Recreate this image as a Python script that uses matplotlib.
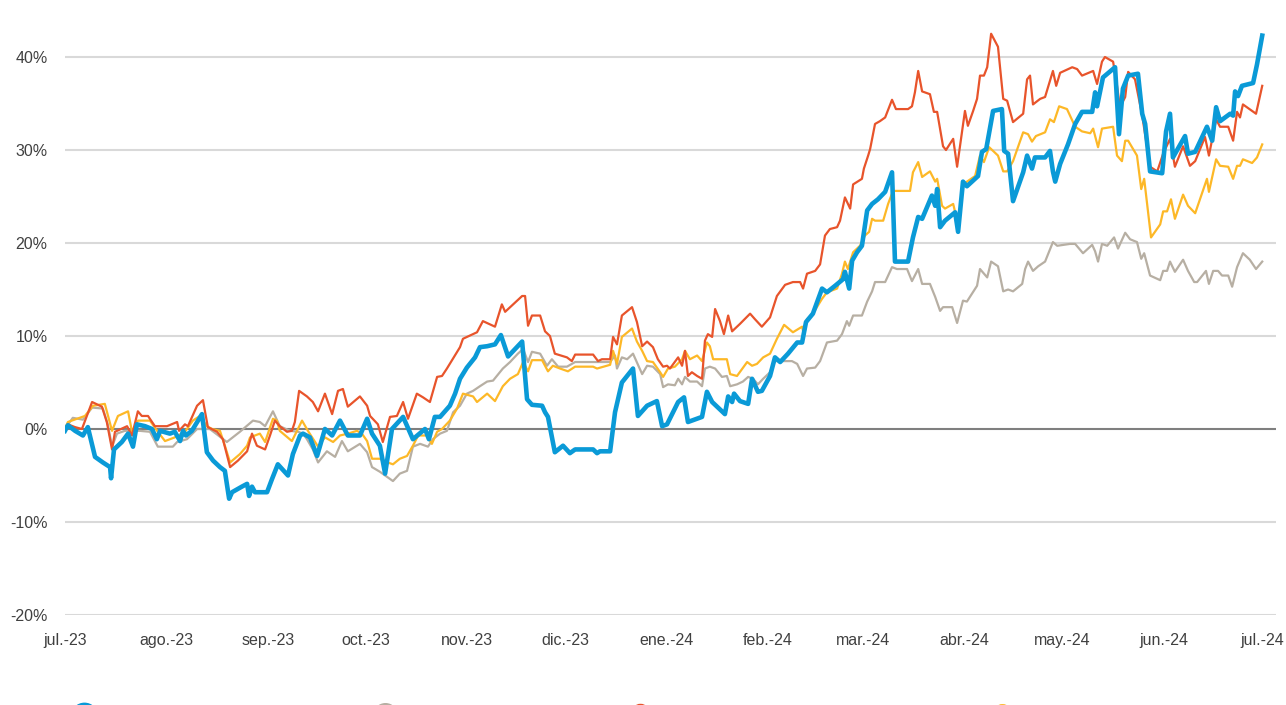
import matplotlib
matplotlib.use("Agg")
import matplotlib.pyplot as plt
from matplotlib.lines import Line2D
import pandas as pd

plt.rcParams["font.family"] = ["Liberation Sans", "DejaVu Sans"]

start = pd.Timestamp("2023-07-01")

# (days since 2023-07-01, return %)
blue = [(0, -0.2), (0.9, 0.4), (3.1, -0.2), (5.5, -0.7), (7.0, 0.2), (9.2, -3.0), (11.6, -3.6),
        (13.8, -4.1), (14.1, -5.3), (15.0, -2.2), (17.4, -1.4), (19.3, -0.5), (20.8, -1.9), (22.0, 0.5),
        (24.5, 0.3), (26.6, 0.0), (28.1, -1.1), (29.1, -0.2), (32.1, -0.5), (33.6, -0.3), (35.2, -1.3),
        (36.1, -0.2), (37.0, -0.7), (38.8, -0.2), (41.9, 1.6), (43.4, -2.5), (45.3, -3.4), (47.4, -4.1),
        (48.9, -4.5), (50.2, -7.5), (51.1, -6.8), (54.1, -6.2), (55.7, -5.9), (56.3, -7.2), (57.2, -6.2),
        (58.1, -6.8), (61.8, -6.8), (63.3, -5.4), (65.1, -3.8), (68.2, -5.0), (69.7, -2.7), (71.9, -0.7),
        (72.8, -0.5), (74.9, -0.9), (77.1, -2.9), (79.5, 0.0), (81.7, -0.7), (84.1, 0.9), (86.5, -0.7),
        (90.2, -0.7), (92.4, 1.1), (93.9, -0.5), (96.3, -1.8), (97.9, -4.8), (100.0, 0.0), (103.4, 1.3),
        (106.4, -1.1), (110.1, 0.0), (111.3, -1.1), (113.1, 1.3), (114.7, 1.3), (117.7, 2.5), (119.3, 3.8),
        (120.8, 5.4), (122.9, 6.6), (125.4, 7.7), (126.9, 8.8), (129.1, 8.9), (131.5, 9.1), (133.3, 10.1),
        (135.5, 7.8), (139.8, 9.4), (141.3, 3.2), (142.8, 2.6), (145.9, 2.5), (146.8, 1.8), (147.7, 1.3),
        (149.8, -2.5), (152.3, -1.8), (154.4, -2.6), (156.0, -2.2), (161.5, -2.2), (162.7, -2.6),
        (163.6, -2.4), (166.7, -2.4), (168.2, 1.8), (170.3, 5.0), (173.7, 6.5), (175.2, 1.4), (178.0, 2.5),
        (181.0, 3.0), (182.6, 0.3), (184.1, 0.5), (187.5, 2.9), (189.3, 3.4), (190.5, 0.75), (194.8, 1.3),
        (196.3, 4.0), (197.9, 2.9), (201.8, 1.6), (202.8, 3.5), (204.0, 2.9), (204.6, 3.8), (206.4, 3.0),
        (208.9, 2.7), (210.1, 5.4), (211.9, 4.0), (213.1, 4.1), (215.6, 5.7), (217.1, 7.7), (218.7, 7.2),
        (221.1, 8.1), (223.9, 9.3), (225.4, 9.3), (226.6, 11.5), (228.7, 12.4), (231.5, 15.1), (233.0, 14.7),
        (235.5, 15.4), (237.9, 16.1), (238.5, 16.9), (239.8, 15.1), (240.7, 18.1), (242.2, 19.0),
        (243.7, 19.7), (245.3, 23.5), (246.8, 24.2), (248.6, 24.7), (250.8, 25.5), (252.9, 27.6),
        (253.8, 18.0), (257.8, 18.0), (259.3, 20.6), (260.9, 22.8), (262.1, 22.6), (265.1, 25.1),
        (266.1, 24.0), (266.7, 25.8), (267.6, 21.7), (269.1, 22.4), (272.2, 23.3), (273.1, 21.2),
        (274.6, 26.6), (275.8, 26.1), (279.2, 27.2), (280.4, 29.8), (281.7, 30.1), (283.8, 34.2),
        (286.5, 34.4), (287.2, 29.9), (288.4, 29.6), (289.9, 24.5), (293.0, 27.6), (294.2, 29.4),
        (295.7, 28.0), (296.6, 29.2), (299.7, 29.2), (301.2, 29.9), (302.1, 27.7), (302.8, 26.6),
        (304.3, 28.5), (306.7, 30.6), (308.9, 32.8), (311.0, 34.1), (314.1, 34.1), (315.0, 36.2),
        (315.6, 34.7), (317.4, 37.8), (321.1, 38.9), (322.3, 31.7), (323.5, 36.6), (325.1, 38.0),
        (328.1, 38.2), (329.4, 33.9), (330.3, 32.8), (331.8, 27.7), (335.5, 27.5), (336.7, 32.0),
        (337.9, 33.9), (338.8, 29.2), (342.5, 31.5), (343.4, 29.6), (345.6, 29.8), (349.2, 32.5),
        (350.8, 31.0), (352.0, 34.6), (353.2, 33.1), (356.3, 33.9), (357.2, 33.7), (357.8, 36.3),
        (358.7, 35.8), (359.9, 36.9), (363.3, 37.2), (364.5, 39.2), (366.1, 42.3)]

orange = [(0, 0.0), (0.9, 0.5), (3.1, 0.2), (5.2, 0.0), (8.3, 2.9), (11.3, 2.4), (12.8, 0.75),
          (14.4, -2.2), (15.3, -0.3), (19.0, 0.3), (20.5, -0.7), (22.3, 1.9), (23.5, 1.4), (25.4, 1.4),
          (27.5, 0.3), (31.2, 0.3), (34.3, 0.75), (34.9, -0.2), (36.7, 0.5), (37.6, 0.3), (40.4, 2.5),
          (42.2, 3.1), (43.7, 0.2), (46.5, -0.3), (48.3, -1.1), (50.5, -4.1), (52.9, -3.4), (55.7, -2.4),
          (57.2, -0.5), (58.7, -1.8), (61.2, -2.2), (62.7, -0.7), (64.2, 0.9), (65.7, 0.3), (67.9, -0.3),
          (69.4, -0.2), (70.3, 0.75), (71.6, 4.1), (74.0, 3.5), (75.8, 2.9), (77.4, 1.9), (79.5, 3.8),
          (81.7, 1.6), (83.5, 4.1), (85.0, 4.3), (86.5, 2.4), (90.2, 3.5), (92.4, 2.5), (93.3, 1.4),
          (95.7, 0.5), (97.2, -1.4), (99.4, 1.3), (101.5, 1.4), (103.4, 2.9), (104.9, 1.1), (107.6, 3.8),
          (109.5, 3.4), (111.6, 2.9), (113.8, 5.6), (115.3, 5.7), (116.8, 6.5), (120.8, 8.8), (121.7, 9.7),
          (124.8, 10.2), (126.0, 10.4), (127.8, 11.6), (131.5, 11.0), (133.6, 13.4), (134.6, 12.6),
          (139.8, 14.3), (140.7, 14.3), (141.6, 11.1), (142.8, 12.2), (145.3, 12.2), (146.8, 10.5),
          (148.3, 10.0), (149.8, 8.1), (153.5, 7.7), (155.0, 7.3), (156.0, 8.0), (161.5, 8.0), (163.0, 7.3),
          (164.2, 7.5), (166.7, 7.5), (167.6, 9.9), (168.8, 9.1), (170.3, 12.2), (173.4, 13.1),
          (174.9, 11.5), (176.5, 8.9), (178.0, 9.4), (179.8, 8.8), (181.3, 7.5), (182.9, 6.7), (184.1, 6.8),
          (185.0, 6.5), (187.5, 7.7), (188.7, 6.8), (189.6, 8.4), (190.5, 5.7), (191.7, 6.1), (193.3, 5.7),
          (194.8, 5.4), (195.7, 9.5), (196.6, 10.2), (197.9, 9.9), (198.8, 12.9), (200.3, 11.6),
          (201.5, 10.2), (202.8, 12.2), (204.0, 10.5), (206.4, 11.3), (209.5, 12.4), (211.0, 11.8),
          (213.1, 11.0), (215.6, 12.0), (217.7, 14.3), (220.2, 15.5), (222.6, 15.8), (224.8, 15.8),
          (225.7, 15.1), (226.9, 16.7), (229.4, 17.0), (230.9, 17.7), (232.4, 20.8), (233.9, 21.5),
          (236.1, 21.7), (237.0, 22.4), (238.5, 24.9), (240.1, 23.7), (241.0, 26.3), (243.7, 26.9),
          (244.3, 28.0), (245.6, 29.4), (246.2, 30.1), (247.7, 32.8), (249.2, 33.1), (250.8, 33.5),
          (252.9, 35.4), (254.1, 34.4), (257.8, 34.4), (259.0, 34.7), (259.9, 36.2), (260.9, 38.5),
          (262.1, 36.3), (264.5, 36.0), (265.7, 34.1), (266.7, 34.1), (268.5, 30.4), (269.4, 30.0),
          (271.6, 31.2), (272.8, 28.2), (275.2, 34.2), (276.1, 32.6), (277.7, 34.2), (278.9, 35.5),
          (279.8, 38.0), (281.0, 38.0), (282.0, 38.9), (283.2, 42.5), (285.3, 41.1), (286.9, 35.5),
          (288.1, 35.3), (289.9, 33.0), (293.0, 33.9), (294.2, 37.6), (295.1, 38.0), (296.0, 34.9),
          (298.2, 35.5), (299.7, 35.7), (302.1, 38.5), (303.1, 36.9), (304.3, 38.3), (308.0, 38.9),
          (309.5, 38.7), (311.0, 38.0), (314.4, 38.5), (315.6, 37.1), (317.1, 39.5), (318.0, 40.0),
          (320.5, 39.5), (321.7, 36.9), (322.6, 34.6), (324.2, 35.7), (325.1, 38.4), (327.2, 37.6),
          (329.4, 33.7), (331.8, 28.2), (334.0, 27.7), (335.8, 29.6), (337.9, 31.2), (339.4, 28.2),
          (341.9, 30.4), (344.0, 28.3), (345.6, 28.8), (347.1, 30.1), (348.6, 31.4), (349.8, 29.4),
          (352.0, 33.3), (353.2, 32.5), (355.7, 32.5), (357.2, 31.0), (358.4, 34.1), (359.3, 33.5),
          (360.2, 34.9), (364.2, 33.9), (366.1, 36.9)]

yellow = [(0, 0.0), (0.9, 0.75), (3.7, 1.1), (6.1, 1.4), (8.6, 2.5), (12.2, 2.7), (14.4, -0.2),
          (16.2, 1.4), (19.3, 1.9), (20.5, -0.3), (22.3, 0.9), (26.0, 0.9), (28.4, -0.3), (30.6, -1.3),
          (33.6, -0.9), (36.7, -0.3), (39.1, 0.9), (41.3, 1.4), (43.4, 0.3), (45.0, 0.0), (47.4, -0.2),
          (48.9, -1.8), (50.5, -3.6), (53.5, -2.7), (55.7, -1.8), (56.6, -0.9), (58.1, -0.7), (59.6, -0.5),
          (61.2, -1.4), (63.6, 1.1), (64.8, 0.9), (65.7, -0.2), (69.4, -1.3), (72.5, 0.9), (74.3, -0.2),
          (77.4, -1.9), (79.5, -0.9), (82.0, -1.4), (84.1, -0.7), (86.5, -0.5), (89.3, -0.2), (90.8, -0.5),
          (92.4, -1.3), (93.9, -3.2), (96.3, -3.2), (97.9, -3.5), (100.3, -3.8), (102.4, -3.2),
          (104.6, -2.9), (106.4, -1.8), (108.0, -0.7), (110.7, -0.7), (112.2, -1.6), (113.8, -0.3),
          (115.3, 0.0), (117.7, 0.9), (119.9, 2.2), (121.7, 3.8), (124.8, 3.5), (126.0, 2.9), (129.1, 3.8),
          (131.5, 3.0), (133.9, 4.6), (136.1, 5.4), (138.5, 5.9), (140.1, 7.2), (141.6, 6.2), (142.8, 7.4),
          (145.9, 7.4), (147.7, 6.2), (149.2, 6.8), (151.4, 6.5), (153.8, 6.2), (156.0, 6.7), (161.5, 6.7),
          (162.7, 6.5), (166.7, 6.9), (167.6, 8.4), (168.8, 7.0), (170.3, 9.9), (173.4, 10.8), (174.9, 9.4),
          (176.5, 8.4), (178.0, 7.3), (179.8, 7.2), (182.0, 6.1), (182.9, 5.6), (184.4, 6.5), (186.5, 6.7),
          (188.7, 7.5), (189.6, 8.4), (191.1, 7.5), (193.3, 7.9), (194.8, 7.3), (196.3, 9.3), (197.2, 8.9),
          (198.2, 7.5), (202.4, 7.5), (203.4, 5.9), (205.5, 5.7), (208.6, 7.2), (210.1, 6.8), (211.6, 7.0),
          (213.5, 7.7), (215.6, 8.1), (217.7, 9.7), (219.9, 11.2), (222.6, 10.4), (225.4, 11.0),
          (226.0, 10.1), (226.9, 11.8), (228.7, 12.4), (231.5, 14.0), (233.0, 14.7), (236.1, 15.1),
          (237.6, 16.7), (238.5, 18.0), (239.4, 17.2), (241.0, 19.0), (243.1, 19.7), (244.6, 20.8),
          (245.9, 21.2), (246.8, 22.6), (247.7, 22.4), (250.2, 22.4), (251.7, 24.2), (253.2, 25.6),
          (258.4, 25.6), (259.3, 27.6), (260.9, 28.7), (262.1, 27.1), (264.5, 27.7), (266.1, 26.6),
          (266.7, 26.9), (268.2, 24.0), (269.1, 23.7), (271.6, 24.2), (273.1, 22.0), (274.6, 26.3),
          (278.3, 27.2), (279.8, 29.4), (281.0, 28.7), (282.6, 30.3), (285.3, 29.4), (286.9, 27.7),
          (288.1, 27.7), (289.9, 28.8), (293.0, 31.9), (294.5, 31.7), (295.7, 30.9), (296.9, 31.5),
          (299.7, 31.9), (301.2, 33.3), (302.4, 33.0), (304.0, 34.7), (306.4, 34.4), (308.9, 32.5),
          (311.0, 32.0), (313.5, 31.8), (314.4, 32.3), (315.9, 30.3), (317.1, 32.3), (320.5, 32.5),
          (321.7, 29.4), (323.2, 28.8), (324.2, 31.0), (325.1, 31.0), (327.8, 29.4), (329.1, 25.8),
          (330.0, 26.9), (332.1, 20.6), (334.9, 22.0), (335.8, 23.4), (337.0, 23.4), (338.2, 24.7),
          (339.4, 22.6), (341.9, 25.2), (343.4, 24.0), (345.6, 23.2), (349.2, 26.9), (349.8, 25.5),
          (352.0, 29.0), (353.2, 28.3), (355.7, 28.2), (357.2, 26.9), (358.4, 28.3), (359.3, 28.3),
          (360.2, 29.0), (363.0, 28.6), (364.5, 29.2), (366.1, 30.6)]

gray = [(0, 0.0), (2.4, 1.2), (5.5, 1.0), (8.3, 2.3), (11.6, 2.2), (13.1, 0.5), (14.4, -1.9),
        (15.9, -0.5), (18.3, -0.2), (22.9, -0.2), (26.0, -0.3), (28.4, -1.9), (33.0, -1.9), (34.3, -1.4),
        (37.3, -1.1), (40.4, 0.0), (44.3, 0.0), (49.5, -1.4), (53.5, -0.3), (57.5, 0.9), (59.6, 0.75),
        (61.2, 0.3), (63.6, 1.9), (65.7, 0.3), (68.8, -0.2), (71.3, -0.3), (72.8, -0.5), (74.0, -1.1),
        (75.8, -2.2), (77.4, -3.6), (80.1, -2.4), (82.6, -3.0), (84.7, -1.3), (86.5, -2.4), (90.2, -1.6),
        (92.4, -2.5), (93.9, -4.1), (96.3, -4.6), (97.9, -5.0), (100.3, -5.6), (102.4, -4.8),
        (104.6, -4.5), (106.4, -1.9), (108.6, -1.6), (111.0, -1.9), (112.5, -1.1), (114.7, -0.5),
        (116.8, -0.2), (118.7, 1.8), (120.8, 2.5), (122.9, 3.8), (124.8, 4.1), (126.9, 4.6), (129.1, 5.1),
        (130.9, 5.2), (133.9, 6.5), (136.1, 7.2), (138.5, 8.1), (140.1, 8.6), (141.6, 7.2), (142.8, 8.3),
        (145.3, 8.1), (147.4, 6.8), (148.9, 7.5), (150.8, 6.7), (153.5, 6.7), (156.0, 7.2), (166.7, 7.2),
        (168.2, 7.9), (168.8, 6.5), (170.3, 7.7), (171.9, 7.5), (173.7, 8.1), (176.5, 5.9), (178.0, 6.8),
        (179.8, 6.7), (182.0, 5.9), (182.9, 4.5), (184.4, 4.8), (186.5, 4.7), (187.5, 5.4), (188.7, 4.8),
        (189.6, 5.6), (191.1, 5.1), (193.3, 5.1), (194.8, 4.6), (195.7, 6.5), (197.2, 6.7), (198.8, 6.5),
        (200.9, 5.6), (202.4, 5.7), (203.4, 4.6), (205.5, 4.8), (207.3, 5.1), (208.9, 5.6), (210.4, 5.4),
        (211.9, 4.8), (213.5, 5.4), (215.6, 6.1), (217.1, 7.3), (222.3, 7.3), (223.9, 7.0), (225.7, 5.7),
        (226.9, 6.5), (229.4, 6.6), (230.9, 7.3), (233.0, 9.3), (236.1, 9.5), (237.6, 10.2),
        (239.1, 11.6), (239.8, 11.1), (241.0, 12.2), (243.7, 12.2), (245.3, 13.7), (246.8, 14.8),
        (247.7, 15.8), (250.8, 15.8), (252.9, 17.4), (254.4, 17.2), (257.5, 17.2), (259.0, 15.9),
        (260.9, 17.2), (262.1, 15.6), (264.5, 15.6), (266.1, 14.2), (267.6, 12.7), (268.5, 13.1),
        (271.3, 13.1), (272.8, 11.4), (274.6, 13.8), (275.8, 13.7), (278.9, 15.4), (279.8, 17.2),
        (282.0, 16.3), (283.2, 18.0), (285.3, 17.5), (286.9, 14.8), (288.4, 15.0), (289.9, 14.8),
        (292.7, 15.6), (293.6, 17.2), (294.5, 18.0), (296.0, 17.0), (297.6, 17.5), (299.7, 18.0),
        (302.1, 20.1), (303.4, 19.7), (307.3, 19.9), (308.9, 19.9), (311.3, 18.9), (314.1, 19.8),
        (315.0, 19.1), (315.9, 18.0), (317.1, 19.9), (318.7, 19.7), (320.8, 20.6), (322.0, 19.4),
        (324.2, 21.1), (325.7, 20.4), (327.8, 20.1), (329.1, 18.3), (330.0, 18.9), (331.8, 16.5),
        (334.9, 16.0), (335.8, 17.0), (337.0, 17.0), (337.9, 18.0), (339.4, 16.9), (341.9, 18.2),
        (343.4, 17.0), (345.3, 15.8), (346.2, 15.8), (348.9, 17.0), (349.8, 15.6), (351.1, 17.0),
        (352.6, 17.0), (353.8, 16.5), (355.7, 16.5), (356.9, 15.3), (358.4, 17.4), (360.2, 18.9),
        (362.3, 18.2), (364.2, 17.2), (366.1, 18.0)]

month_ticks = pd.date_range("2023-07-01", "2024-07-01", freq="MS")
month_labels = ["jul.-23", "ago.-23", "sep.-23", "oct.-23", "nov.-23", "dic.-23", "ene.-24",
                "feb.-24", "mar.-24", "abr.-24", "may.-24", "jun.-24", "jul.-24"]
y_ticks = [-20, -10, 0, 10, 20, 30, 40]

series = [(gray, "#B7AFA3", 1.6), (yellow, "#FDB827", 1.6), (orange, "#E8542B", 1.6), (blue, "#0A9AD7", 3.3)]


def to_xy(pairs):
    days = [p[0] for p in pairs]
    vals = [p[1] for p in pairs]
    dates = start + pd.to_timedelta(days, unit="D")
    return dates, vals


fig = plt.figure(figsize=(12.86, 7.05), dpi=100)
ax = fig.add_axes([0.0505, 0.1277, 0.9417, 0.8574])

for y in y_ticks:
    ax.axhline(y, color="#7F7F7F" if y == 0 else "#D9D9D9", lw=1.5, zorder=1)

for pairs, color, lw in series:
    x, v = to_xy(pairs)
    ax.plot(x, v, color=color, lw=lw, zorder=3)

ax.set_ylim(-20, 45)
ax.set_xlim(start, start + pd.Timedelta(days=370.3))
ax.set_yticks(y_ticks)
ax.set_yticklabels([f"{t}%" for t in y_ticks])
ax.set_xticks(month_ticks)
ax.set_xticklabels(month_labels)
ax.tick_params(axis="both", length=0, labelsize=11.5, colors="#404040")
ax.tick_params(axis="y", pad=12.5)
ax.tick_params(axis="x", pad=13)
for s in ax.spines.values():
    s.set_visible(False)

# legend markers, mostly cut off at the bottom edge
legend_marks = [(84, 716, 19, "#0A9AD7"), (385, 715, 17, "#B7AFA3"),
                (640, 713, 13, "#E8542B"), (1002, 714, 14, "#FDB827")]
for px, py, ms, c in legend_marks:
    fig.add_artist(Line2D([px / 1286], [1 - py / 705], marker="o", markersize=ms,
                          color=c, transform=fig.transFigure))

fig.savefig("out.png", dpi=100)
